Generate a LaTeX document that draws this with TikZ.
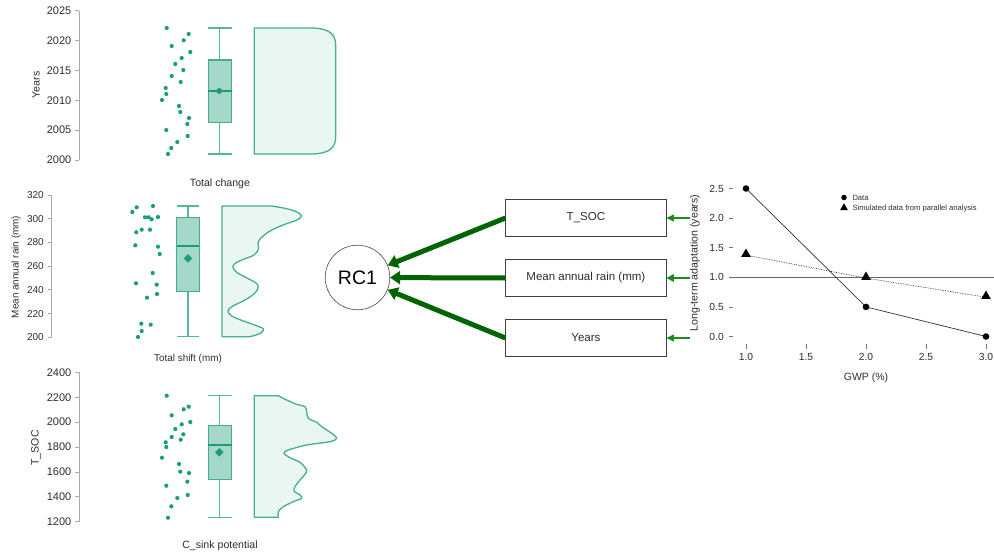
\documentclass[tikz,border=0pt]{standalone}
\usepackage{fontspec}
\setmainfont{Liberation Sans}
\usetikzlibrary{arrows.meta,shapes.geometric}
\definecolor{dotg}{HTML}{1B9E77}
\definecolor{boxf}{HTML}{A4D9C9}
\definecolor{boxs}{HTML}{45AF8C}
\definecolor{whg}{HTML}{52B795}
\definecolor{densf}{HTML}{E9F6F1}
\definecolor{axg}{HTML}{A8A8A8}
\definecolor{txg}{HTML}{2E2E2E}
\definecolor{darrow}{HTML}{006400}
\definecolor{larrow}{HTML}{1E8B1E}
\begin{document}
\begin{tikzpicture}[x=1pt,y=-1pt,
  ticklab/.style={font=\fontsize{11}{12}\selectfont, text=txg, anchor=east, inner sep=0pt},
  ticklabs/.style={font=\fontsize{10}{11}\selectfont, text=txg, anchor=east, inner sep=0pt},
  axlab/.style={font=\fontsize{10.6}{12}\selectfont, text=txg, inner sep=0pt},
  axlabs/.style={font=\fontsize{9.9}{11}\selectfont, text=txg, inner sep=0pt},
  axline/.style={draw=axg, line width=0.8pt},
  boxsty/.style={fill=boxf, draw=boxs, line width=1.3pt},
  whisk/.style={draw=whg, line width=1.3pt},
  medln/.style={draw=dotg, line width=2pt},
  dens/.style={fill=densf, draw=boxs, line width=1.3pt, line join=round},
  pbox/.style={draw=black!75, line width=0.7pt, minimum width=160.3pt, minimum height=37.3pt, font=\fontsize{11.5}{13}\selectfont, text=txg, inner sep=0pt},
  factor/.style={circle, draw=black!70, line width=0.6pt, minimum size=64.6pt, font=\fontsize{19.5}{22}\selectfont, inner sep=0pt},
  thickarr/.style={draw=darrow, line width=5pt, -{Triangle[length=10pt,width=13pt]}},
  thinarr/.style={draw=larrow, line width=1.2pt, -{Triangle[length=7.5pt,width=7pt]}},
  thinarrb/.style={draw=larrow, line width=2.2pt, -{Triangle[length=7.5pt,width=7.5pt]}},
  stick/.style={font=\fontsize{10.3}{12}\selectfont, text=txg, inner sep=0pt},
  datpt/.style={circle, fill=black, inner sep=0pt, minimum size=6.6pt},
  simpt/.style={regular polygon, regular polygon sides=3, fill=black, inner sep=0pt, minimum size=11pt},
  legtxt/.style={font=\fontsize{7.6}{9}\selectfont, text=txg, anchor=west, inner sep=0pt}
]
\useasboundingbox (0,0) rectangle (994,554);
\fill[white] (0,0) rectangle (994,554);

% ================= Panel 1: Years =================
\draw[axline] (79,10.7) -- (79,160);
\foreach \v [count=\i from 0] in {2000,2005,...,2025} {
  \draw[axline] (75,160-\i*29.86) -- (79,160-\i*29.86);
  \node[ticklab] at (71.5,160-\i*29.86) {\v};
}
\node[axlab, rotate=90] (ylab1) at (36,85) {Years};
\foreach \x/\y in {166.7/28,188.7/34,183.7/40.3,171.7/46,190.3/52,181.7/58,175.3/64,183.3/70,171.7/76,180.7/82,165.7/88,166.3/94,162/100,179/106,180.3/112,189/118,187.3/124,166.3/130,187.7/136,177.3/142,171.3/148,168/154}
  \fill[dotg] (\x,\y) circle[radius=2.1pt];
\draw[whisk] (219.3,60) -- (219.3,28) (208.3,28) -- (231.7,28);
\draw[whisk] (219.3,122.7) -- (219.3,154) (208.3,154) -- (231.7,154);
\filldraw[boxsty] (208.3,60) rectangle (231.7,122.7);
\draw[medln] (208.3,91) -- (231.7,91);
\fill[dotg] (219.3,91) circle[radius=2.9pt];
\filldraw[dens] (254.3,28) -- (313.3,28) .. controls (331,29) and (335.7,35) .. (335.7,46) -- (335.7,136) .. controls (335.7,147) and (331,153) .. (313.3,154) -- (254.3,154) -- cycle;
\node[axlab] (xlab1) at (220,184) {Total change};

% ================= Panel 2: Mean annual rain =================
\draw[axline] (51.7,195) -- (51.7,337.3);
\foreach \v [count=\i from 0] in {200,220,...,320} {
  \draw[axline] (48,337.3-\i*23.72) -- (51.7,337.3-\i*23.72);
  \node[ticklabs] at (44,337.3-\i*23.72) {\v};
}
\node[axlabs, rotate=90] (ylab2) at (16,267) {Mean annual rain (mm)};
\foreach \x/\y in {132.3/212,136.7/207.3,153/206,145/217.3,148.7/217.3,151.7/219.3,158/217,136.3/232.3,141.7/229.7,150/229.7,135.3/245.3,158/246.7,159.7/254,152.7/273,136/283.3,156.7/284.7,157/294,147/297.7,141.3/323.7,150.7/324.7,141.7/331,138/337}
  \fill[dotg] (\x,\y) circle[radius=2.1pt];
\draw[whisk] (188,217.3) -- (188,206) (176.7,206) -- (199.3,206);
\draw[whisk] (188,291.7) -- (188,336.7) (176.7,336.7) -- (199.3,336.7);
\filldraw[boxsty] (176.7,217.3) rectangle (199.3,291.7);
\draw[medln] (176.7,246) -- (199.3,246);
\fill[dotg] (188,254) -- (192.3,258.3) -- (188,262.6) -- (183.7,258.3) -- cycle;
\filldraw[dens] (222,206) -- plot[smooth,tension=0.55] coordinates {(271.7,206) (286,208.5) (297,212) (301.5,216) (297,220) (283,225) (270,231) (261,238) (258,243) (258.5,249) (254,255) (243,259.5) (235,263.5) (233,267.5) (237,272.5) (247,278) (256,283) (258.3,287) (255,293) (245,300) (233,306) (228,310.5) (231,315.5) (242,320.5) (256,325.5) (263.5,329) (260,333.5) (250,336.7)} -- (222,336.7) -- cycle;
\node[axlabs] (xlab2) at (188,359) {Total shift (mm)};

% ================= Panel 3: T_SOC =================
\draw[axline] (79,372.4) -- (79,521.7);
\foreach \v [count=\i from 0] in {1200,1400,...,2400} {
  \draw[axline] (75,521.7-\i*24.88) -- (79,521.7-\i*24.88);
  \node[ticklab] at (71.5,521.7-\i*24.88) {\v};
}
\node[axlab, rotate=90] (ylab3) at (36,448) {T\_SOC};
\foreach \x/\y in {166.7/395.7,188.7/406.7,183.7/409.3,171.7/415.3,190.3/422,181.7/424.3,175.3/429,183.3/434.3,171.7/437,180.7/439.7,165.7/442.3,166.3/447,162/457.7,179/464,180.3/471.7,189/473,187.3/481.7,166.3/485.7,187.7/495,177.3/498,171.3/506.3,168/517.7}
  \fill[dotg] (\x,\y) circle[radius=2.1pt];
\draw[whisk] (219.3,425.7) -- (219.3,395.7) (208.3,395.7) -- (231.7,395.7);
\draw[whisk] (219.3,479.3) -- (219.3,517.3) (208.3,517.3) -- (231.7,517.3);
\filldraw[boxsty] (208.3,425.7) rectangle (231.7,479.3);
\draw[medln] (208.3,445) -- (231.7,445);
\fill[dotg] (219.3,448) -- (223.6,452.3) -- (219.3,456.6) -- (215,452.3) -- cycle;
\filldraw[dens] (254.3,395.7) -- plot[smooth,tension=0.5] coordinates {(278.3,395.7) (286.7,400) (296.7,404.3) (305,406.7) (306.7,411.7) (308.3,418.3) (316.7,422.3) (321.7,426.7) (331.7,433.3) (336.7,438.3) (330,441.7) (306.7,445) (288.3,450) (284,453.3) (290,457.7) (300,462.3) (306.7,470) (305,474.3) (300,480) (295,486.7) (294,491) (300,495) (301.7,498.3) (293.3,501.7) (283.3,506.7) (278.3,511.7) (278.3,517.3)} -- (254.3,517.3) -- cycle;
\node[axlab] (xlab3) at (220,546) {C\_sink potential};

% ================= Path diagram =================
\node[factor] (rc1) at (357.5,277.5) {RC1};
\node[pbox] (tsoc) at (585.9,218) {T\_SOC};
\node[pbox] (rain) at (585.9,278) {Mean annual rain (mm)};
\node[pbox] (yrs) at (585.9,338) {Years};
\draw[thickarr] (tsoc.west) -- (rc1);
\draw[thickarr] (rain.west) -- (rc1);
\draw[thickarr] (yrs.west) -- (rc1);
\coordinate (ea) at (690,218);
\coordinate (eb) at (690,278);
\coordinate (ec) at (690,338);
\draw[thinarr] (ea) -- (tsoc.east);
\draw[thinarrb] (eb) -- (rain.east);
\draw[thinarr] (ec) -- (yrs.east);

% ================= Scree plot =================
\foreach \v in {0.0,0.5,1.0,1.5,2.0,2.5} {
  \draw[draw=black!55, line width=0.6pt] (729,336.5-\v*59.2) -- (733,336.5-\v*59.2);
  \node[stick, anchor=east] at (724,336.5-\v*59.2) {\v};
}
\foreach \v in {1.0,1.5,2.0,2.5,3.0} {
  \draw[draw=black!55, line width=0.6pt] (746+\v*120-120,344) -- (746+\v*120-120,348.5);
  \node[stick] at (746+\v*120-120,357) {\v};
}
\node[font=\fontsize{10.5}{12}\selectfont, text=txg, inner sep=0pt] (gwp) at (866,378) {GWP (\%)};
\node[font=\fontsize{10.6}{12}\selectfont, text=txg, inner sep=0pt, rotate=90] (ltl) at (695,263) {Long-term adaptation (years)};
\draw[draw=black!60, line width=0.8pt] (733,277.3) -- (994,277.3);
\coordinate (d1) at (746,188.5);
\coordinate (d2) at (866,306.9);
\coordinate (d3) at (986,336.5);
\coordinate (s1) at (746,255.1);
\coordinate (s2) at (866,278.1);
\coordinate (s3) at (986,297.2);
\draw[draw=black!80, line width=0.7pt] (d1) -- (d2) -- (d3);
\draw[draw=black!80, line width=0.7pt, densely dotted] (s1) -- (s2) -- (s3);
\node[datpt] (p1) at (d1) {};
\node[datpt] (p2) at (d2) {};
\node[datpt] (p3) at (d3) {};
\node[simpt] (q1) at (746,254) {};
\node[simpt] (q2) at (866,277) {};
\node[simpt] (q3) at (986,296.1) {};
\node[circle, fill=black, inner sep=0pt, minimum size=5.5pt] (lg1) at (844,197.5) {};
\node[regular polygon, regular polygon sides=3, fill=black, inner sep=0pt, minimum size=9pt] (lg2) at (844,207.8) {};
\node[legtxt] (lt1) at (852.3,197.5) {Data};
\node[legtxt] (lt2) at (852.3,208.5) {Simulated data from parallel analysis};
\end{tikzpicture}
\end{document}
